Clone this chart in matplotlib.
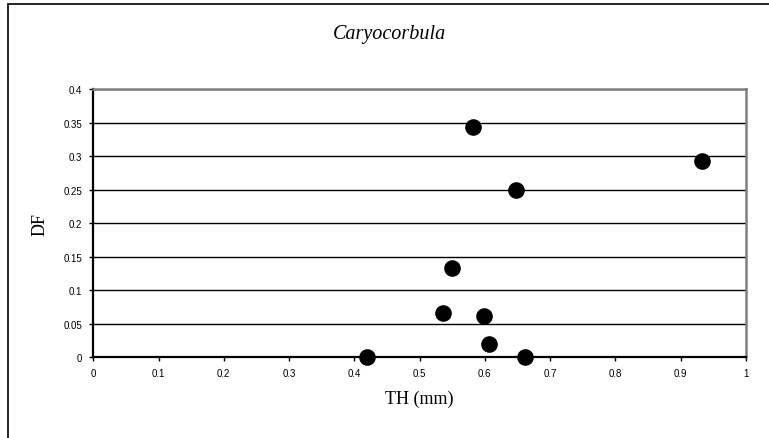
"""
Caryocorbula: DF against shell thickness TH, simple scatter plot
"""

import matplotlib.pyplot as plt
from matplotlib.patches import Rectangle

# shell thickness (mm) and DF per sample
th_mm = [0.42, 0.536, 0.55, 0.582, 0.598, 0.607, 0.648, 0.662, 0.933]
df_values = [0.0, 0.066, 0.133, 0.343, 0.062, 0.020, 0.249, 0.0, 0.293]

x_ticks = [0, 0.1, 0.2, 0.3, 0.4, 0.5, 0.6, 0.7, 0.8, 0.9, 1]
x_tick_labels = ['0', '0.1', '0.2', '0.3', '0.4', '0.5', '0.6', '0.7', '0.8', '0.9', '1']
y_ticks = [0, 0.05, 0.1, 0.15, 0.2, 0.25, 0.3, 0.35, 0.4]
y_tick_labels = ['0', '0.05', '0.1', '0.15', '0.2', '0.25', '0.3', '0.35', '0.4']

fig = plt.figure(figsize=(7.69, 4.39), dpi=100)
fig.patch.set_facecolor('white')

# outer chart frame (only the top and left edges fall inside the image)
fig.patches.append(Rectangle((8 / 769, -0.1), 1.2, 1.1 - 5 / 439,
                             transform=fig.transFigure, fill=False,
                             edgecolor='black', linewidth=1.2))

ax = fig.add_axes([0.1213, 0.1838, 0.8487, 0.6112])
ax.scatter(th_mm, df_values, s=120, color='black', zorder=3, clip_on=False)

ax.set_xlim(0, 1)
ax.set_ylim(0, 0.4)
ax.set_xticks(x_ticks)
ax.set_xticklabels(x_tick_labels)
ax.set_yticks(y_ticks)
ax.set_yticklabels(y_tick_labels)
ax.tick_params(axis='both', labelsize=7, length=3, width=1, direction='out', pad=5)
for lbl in ax.get_xticklabels() + ax.get_yticklabels():
    lbl.set_family('Liberation Sans')

ax.yaxis.grid(True, color='black', linewidth=1)
ax.set_axisbelow(True)

for side in ['top', 'right']:
    ax.spines[side].set_color('#808080')
    ax.spines[side].set_linewidth(1.8)
for side in ['left', 'bottom']:
    ax.spines[side].set_color('black')
    ax.spines[side].set_linewidth(1.6)

ax.set_xlabel('TH (mm)', family='Liberation Serif', fontsize=13, labelpad=8)
ax.set_ylabel('DF', family='Liberation Serif', fontsize=13)
ax.yaxis.set_label_coords(-0.068, 0.5)

fig.text(0.506, 1 - 35 / 439, 'Caryocorbula', family='Liberation Serif',
         style='italic', fontsize=14.5, ha='center', va='center')

fig.savefig('out.png', dpi=100)
